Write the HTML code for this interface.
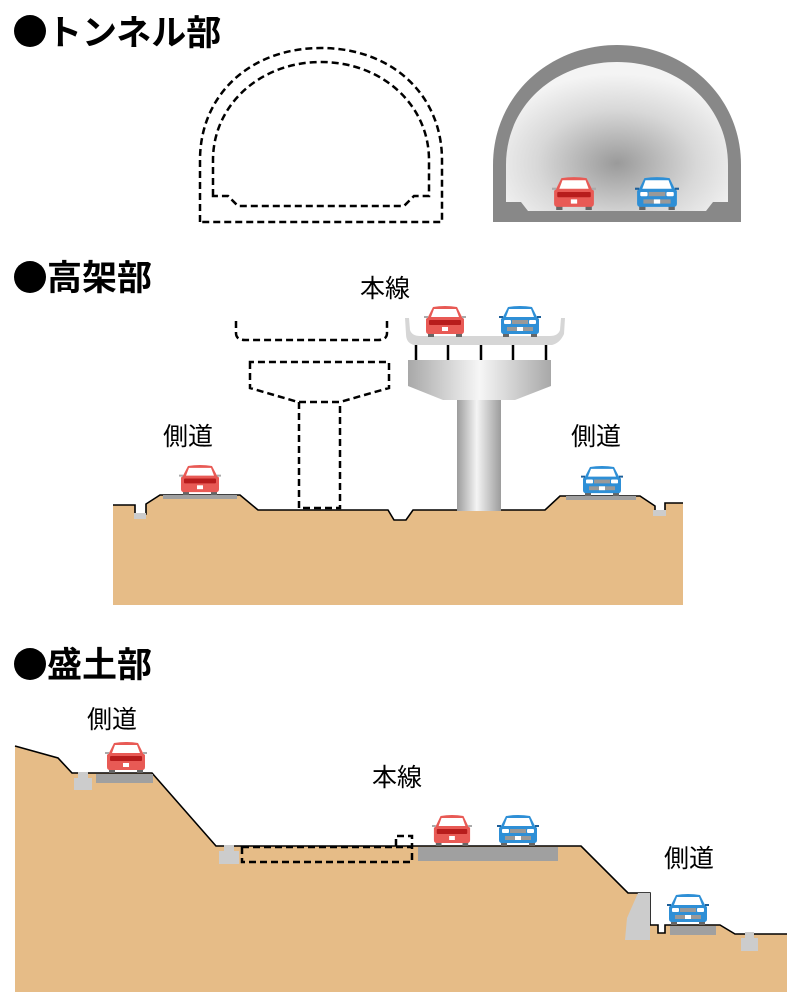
<!DOCTYPE html>
<html><head><meta charset="utf-8"><style>
html,body{margin:0;padding:0;background:#fff;}
svg{display:block;}
text{font-family:"Liberation Sans","Noto Sans CJK JP",sans-serif;}
</style></head><body>
<svg width="805" height="1008" viewBox="0 0 805 1008" xmlns="http://www.w3.org/2000/svg">
<defs>
<radialGradient id="tg" cx="0.5" cy="0.68" r="0.6">
<stop offset="0" stop-color="#9a9a9a"/><stop offset="0.6" stop-color="#d8d8d8"/><stop offset="1" stop-color="#f4f4f4"/>
</radialGradient>
<linearGradient id="col" x1="0" x2="1" y1="0" y2="0">
<stop offset="0" stop-color="#9c9c9c"/><stop offset="0.45" stop-color="#f4f4f4"/><stop offset="1" stop-color="#9c9c9c"/>
</linearGradient>
<linearGradient id="cap" x1="0" x2="1" y1="0" y2="0">
<stop offset="0" stop-color="#a8a8a8"/><stop offset="0.5" stop-color="#f6f6f6"/><stop offset="1" stop-color="#a8a8a8"/>
</linearGradient>
<symbol id="red" viewBox="0 0 42 32" preserveAspectRatio="none">
<rect x="4" y="28" width="6" height="4" fill="#666"/><rect x="32" y="28" width="6" height="4" fill="#666"/>
<path d="M9,2 Q21,0 33,2 L38,12 L40,14 L40,26 Q40,29 37,29 L5,29 Q2,29 2,26 L2,14 L4,12 Z" fill="#e85a55"/>
<rect x="0" y="11" width="4" height="2" fill="#aaa"/><rect x="38" y="11" width="4" height="2" fill="#aaa"/>
<path d="M10,4 L32,4 L35,12 L7,12 Z" fill="#fff"/>
<rect x="5" y="15" width="32" height="5" rx="1" fill="#b71c1c"/>
<rect x="18" y="22" width="6" height="4" fill="#fff"/>
</symbol>
<symbol id="blue" viewBox="0 0 42 32" preserveAspectRatio="none">
<rect x="4" y="28" width="6" height="4" fill="#666"/><rect x="32" y="28" width="6" height="4" fill="#666"/>
<path d="M9,2 Q21,0 33,2 L38,12 L40,14 L40,26 Q40,29 37,29 L5,29 Q2,29 2,26 L2,14 L4,12 Z" fill="#2e8fd6"/>
<rect x="0" y="11" width="4" height="2" fill="#1d5f99"/><rect x="38" y="11" width="4" height="2" fill="#1d5f99"/>
<path d="M10,4 L32,4 L35,12 L7,12 Z" fill="#fff"/>
<rect x="5" y="15" width="7" height="4" rx="1" fill="#fff"/><rect x="30" y="15" width="7" height="4" rx="1" fill="#fff"/>
<rect x="13" y="15" width="16" height="4" fill="#999"/>
<rect x="8" y="22" width="26" height="4" fill="#999"/>
<rect x="18" y="22" width="6" height="4" fill="#fff"/>
</symbol>
</defs>

<!-- headings -->
<circle cx="30" cy="31" r="16"/><text x="47" y="45" font-size="35" font-weight="bold">トンネル部</text>
<circle cx="30" cy="277" r="16"/><text x="47" y="290" font-size="35" font-weight="bold">高架部</text>
<circle cx="30" cy="664" r="16"/><text x="47" y="677" font-size="35" font-weight="bold">盛土部</text>

<!-- tunnel dashed -->
<g fill="none" stroke="#000" stroke-width="2.5" stroke-dasharray="7,4">
<path d="M200,222 L200,160 C200,95 250,48 321,48 C392,48 442,95 442,160 L442,222 Z"/>
<path d="M213,196 L213,160 C213,105 260,62 321,62 C382,62 429,105 429,160 L429,196 L414,196 L404,206 L238,206 L228,196 Z"/>
</g>

<!-- tunnel gray -->
<path d="M493,222 L493,165 C493,95 550,45 617,45 C684,45 741,95 741,165 L741,222 Z" fill="#888"/>
<path d="M506,202 L506,165 C506,105 555,62 617,62 C679,62 728,105 728,165 L728,202 L713,202 L706,211 L528,211 L521,202 Z" fill="url(#tg)"/>
<use href="#red" x="552" y="176" width="44" height="34"/>
<use href="#blue" x="635" y="176" width="44" height="34"/>

<!-- elevated: ground -->
<path d="M113,505 L135,505 L135,514 L146,514 L146,504 L160,495 L240,495 L258,510 L388,510 L394,520 L406,520 L413,510 L545,510 L560,496 L640,496 L655,506 L655,511 L665,511 L665,503 L683,503 L683,605 L113,605 Z" fill="#e6bc87"/>
<path d="M113,505 L135,505 L135,514 L146,514 L146,504 L160,495 L240,495 L258,510 L388,510 L394,520 L406,520 L413,510 L545,510 L560,496 L640,496 L655,506 L655,511 L665,511 L665,503 L683,503" fill="none" stroke="#000" stroke-width="1.6"/>
<rect x="134" y="513" width="12" height="6" fill="#ccc"/><rect x="653" y="510" width="13" height="6" fill="#ccc"/>
<rect x="163" y="495" width="74" height="4" fill="#a0a0a0"/>
<rect x="566" y="496" width="70" height="4" fill="#a0a0a0"/>
<use href="#red" x="179" y="464" width="42" height="31"/>
<use href="#blue" x="581" y="465" width="42" height="31"/>

<!-- dashed elevated -->
<g fill="none" stroke="#000" stroke-width="2.5" stroke-dasharray="7,4">
<path d="M236,321 L236,333 Q236,340 245,340 L378,340 Q387,340 387,333 L387,321"/>
<path d="M250,362 L250,388 L298,402 L340,402 L389,388 L389,362 Z"/>
<path d="M299,402 L299,508 L340,508 L340,402"/>
</g>

<!-- pier -->
<rect x="457" y="395" width="44" height="116" fill="url(#col)"/>
<path d="M408,360 L551,360 L551,386 L515,400 L443,400 L408,386 Z" fill="url(#cap)"/>
<g stroke="#000" stroke-width="2.5">
<line x1="416" y1="345" x2="416" y2="360"/><line x1="448" y1="345" x2="448" y2="360"/><line x1="481" y1="345" x2="481" y2="360"/><line x1="513" y1="345" x2="513" y2="360"/><line x1="546" y1="345" x2="546" y2="360"/>
</g>
<path d="M405,318 L409,318 L410,330 Q412,336 420,336 L550,336 Q558,336 560,330 L561,318 L565,318 L564,334 Q560,343 552,345 L414,345 Q406,343 406,334 Z" fill="#d6d6d6"/>
<use href="#red" x="424" y="305" width="42" height="32"/>
<use href="#blue" x="499" y="305" width="42" height="32"/>

<text x="360" y="297" font-size="25">本線</text>
<text x="163" y="445" font-size="25">側道</text>
<text x="571" y="445" font-size="25">側道</text>

<!-- embankment -->
<path d="M15,746 L58,758 L72,773 L152,773 L216,846 L581,846 L628,893 L650,893 L650,925 L658,925 L658,933 L665,933 L665,925 L720,925 L735,934 L787,934 L787,992 L15,992 Z" fill="#e6bc87"/>
<path d="M15,746 L58,758 L72,773 L152,773 L216,846 L581,846 L628,893 L650,893 L650,925 L658,925 L658,933 L665,933 L665,925 L720,925 L735,934 L787,934" fill="none" stroke="#000" stroke-width="1.6"/>
<path d="M638,893 L650,893 L650,940 L625,940 L627,918 Z" fill="#ccc"/>
<rect x="96" y="774" width="57" height="9" fill="#a0a0a0"/>
<rect x="418" y="847" width="140" height="14" fill="#a0a0a0"/>
<rect x="670" y="926" width="46" height="9" fill="#a0a0a0"/>
<g fill="#ccc"><rect x="74" y="778" width="18" height="12"/><rect x="78" y="772" width="10" height="6"/>
<rect x="219" y="851" width="20" height="13"/><rect x="224" y="845" width="10" height="6"/>
<rect x="741" y="938" width="17" height="13"/><rect x="745" y="932" width="9" height="6"/></g>
<g fill="none" stroke="#000" stroke-width="2.5" stroke-dasharray="7,4">
<rect x="242" y="847" width="170" height="15"/>
<path d="M396,846 L396,836 L412,836 L412,846"/>
</g>
<use href="#red" x="105" y="741" width="42" height="32"/>
<use href="#red" x="432" y="814" width="40" height="32"/>
<use href="#blue" x="497" y="814" width="42" height="32"/>
<use href="#blue" x="667" y="893" width="42" height="32"/>

<text x="87" y="728" font-size="25">側道</text>
<text x="372" y="786" font-size="25">本線</text>
<text x="664" y="867" font-size="25">側道</text>
</svg>
</body></html>
